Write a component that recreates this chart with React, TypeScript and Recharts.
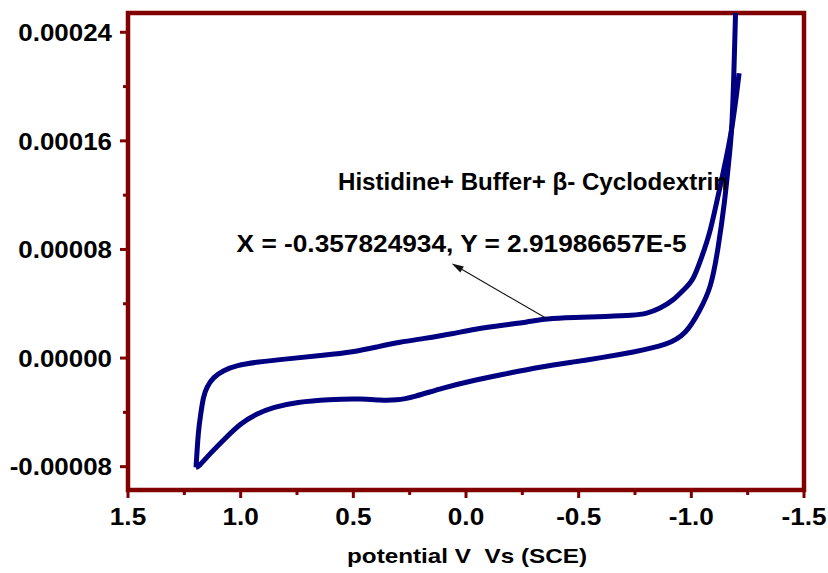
import React from 'react';
import { LineChart, Line, XAxis, YAxis, ReferenceArea, ReferenceDot, ReferenceLine } from 'recharts';

const FRAME = '#800000';
const CURVE = '#000080';
const FONT = '"Liberation Sans", Arial, Helvetica, sans-serif';

// forward sweep (upper branch): potential (V vs SCE) and current (A)
const forwardE = [1.198, 1.188, 1.177, 1.166, 1.151, 1.121, 1.077, 1.018, 0.929, 0.781, 0.633, 0.5, 0.396, 0.293, 0.19, 0.056, -0.032, -0.181, -0.27, -0.358, -0.476, -0.624, -0.742, -0.802, -0.861, -0.92, -0.964, -1.009, -1.047, -1.083, -1.127, -1.18, -1.212];
const forwardI = [-8.05e-5, -5.33e-5, -4.1e-5, -2.87e-5, -2.14e-5, -1.4e-5, -0.91e-5, -0.54e-5, -0.29e-5, -0.04e-5, 0.2e-5, 0.44e-5, 0.81e-5, 1.18e-5, 1.43e-5, 1.8e-5, 2.12e-5, 2.46e-5, 2.65e-5, 2.9e-5, 2.98e-5, 3.07e-5, 3.15e-5, 3.27e-5, 3.64e-5, 4.25e-5, 5.0e-5, 5.7e-5, 7.5e-5, 9.17e-5, 12.6e-5, 16.56e-5, 20.98e-5];

// reverse sweep (lower branch)
const reverseE = [-1.198, -1.189, -1.18, -1.163, -1.149, -1.118, -1.087, -1.038, -0.979, -0.891, -0.742, -0.595, -0.476, -0.328, -0.181, -0.032, 0.102, 0.233, 0.308, 0.382, 0.456, 0.612, 0.75, 0.855, 0.929, 1.003, 1.077, 1.136, 1.188, 1.198];
const reverseI = [26.5e-5, 20.98e-5, 16.56e-5, 14.05e-5, 11.62e-5, 7.94e-5, 5.14e-5, 3.52e-5, 1.8e-5, 0.94e-5, 0.44e-5, 0.01e-5, -0.29e-5, -0.66e-5, -1.15e-5, -1.64e-5, -2.2e-5, -2.87e-5, -3.12e-5, -3.12e-5, -2.99e-5, -3.04e-5, -3.24e-5, -3.61e-5, -4.1e-5, -4.83e-5, -6.06e-5, -7.04e-5, -8.03e-5, -8.05e-5];

const xTicks = [1.5, 1.25, 1.0, 0.75, 0.5, 0.25, 0, -0.25, -0.5, -0.75, -1.0, -1.25, -1.5];
const yTicks = [-0.00008, -0.00004, 0, 0.00004, 0.00008, 0.00012, 0.00016, 0.0002, 0.00024];
const xDomain = [-1.5, 1.5];
const yDomain = [-9.72e-5, 2.542e-4];

const sampleLabel = 'Histidine+ Buffer+ \u03b2- Cyclodextrin';
const sampleLabelAt = { x: 0.568, y: 12.41e-5 };
const pointLabel = 'X = -0.357824934, Y = 2.91986657E-5';
const pointLabelAt = { x: 1.018, y: 7.79e-5 };
const markedPoint = { x: -0.357824934, y: 2.91986657e-5 };
const arrowTip = { x: 0.0635, y: 6.96e-5 };
const xTitle = 'potential V\u00a0 Vs (SCE)';

const forward = forwardE.map((e, k) => ({ e, i: forwardI[k] }));
const reverse = reverseE.map((e, k) => ({ e, i: reverseI[k] }));

const XTick = (props: any) => {
  const { x, y, payload } = props;
  const v = payload.value;
  const major = Math.abs(v * 2 - Math.round(v * 2)) < 1e-6;
  return (
    <g>
      <line x1={x} x2={x} y1={y} y2={y + (major ? 8 : 5)} stroke={FRAME} strokeWidth={3} />
      {major && (
        <text transform={`translate(${x},${y + 35}) scale(1.09,1)`} textAnchor="middle" fontSize={24} fontWeight="bold" fontFamily={FONT} fill="#000">
          {v.toFixed(1)}
        </text>
      )}
    </g>
  );
};

const YTick = (props: any) => {
  const { x, y, payload } = props;
  const v = payload.value;
  const major = Math.round(v / 0.00004) % 2 === 0;
  return (
    <g>
      <line x1={x} x2={x - (major ? 8 : 5)} y1={y} y2={y} stroke={FRAME} strokeWidth={3} />
      {major && (
        <text transform={`translate(${x - 16},${y + 8.7}) scale(1.08,1)`} textAnchor="end" fontSize={24} fontWeight="bold" fontFamily={FONT} fill="#000">
          {v.toFixed(5)}
        </text>
      )}
    </g>
  );
};

const Note = (text: string, len: number) => (p: any) => (
  <text x={p.cx} y={p.cy} fontSize={23} fontWeight="bold" fontFamily={FONT} fill="#000" textLength={len} lengthAdjust="spacingAndGlyphs">
    {text}
  </text>
);

const Arrow = (p: any) => {
  const { x1, y1, x2, y2 } = p;
  const ang = Math.atan2(y2 - y1, x2 - x1);
  const L = 12;
  const W = 3.5;
  const bx = x2 - L * Math.cos(ang);
  const by = y2 - L * Math.sin(ang);
  const nx = -Math.sin(ang) * W;
  const ny = Math.cos(ang) * W;
  return (
    <g>
      <line x1={x1} y1={y1} x2={bx} y2={by} stroke="#111" strokeWidth={1.1} />
      <polygon points={`${x2},${y2} ${bx + nx},${by + ny} ${bx - nx},${by - ny}`} fill="#111" />
    </g>
  );
};

const AxisTitle = (p: any) => {
  const vb = p.viewBox;
  return (
    <text x={vb.x + vb.width / 2 + 1} y={vb.y + 73} textAnchor="middle" fontSize={21} fontWeight="bold" fontFamily={FONT} fill="#000" textLength={240} lengthAdjust="spacingAndGlyphs">
      {xTitle}
    </text>
  );
};

export default function App() {
  return (
    <div style={{ position: 'absolute', left: 0, top: 0, width: 828, height: 573, background: '#fff' }}>
      <LineChart width={828} height={573} margin={{ top: 13, right: 24, bottom: 0, left: 0 }}>
        <XAxis
          dataKey="e"
          type="number"
          domain={xDomain}
          reversed
          ticks={xTicks}
          interval={0}
          tick={<XTick />}
          tickSize={0}
          tickMargin={0}
          tickLine={false}
          axisLine={false}
          height={83}
          allowDataOverflow
          label={AxisTitle}
        />
        <YAxis
          type="number"
          domain={yDomain}
          ticks={yTicks}
          interval={0}
          tick={<YTick />}
          tickSize={0}
          tickMargin={0}
          tickLine={false}
          axisLine={false}
          width={128}
          allowDataOverflow
        />
        <Line data={forward} dataKey="i" type="basis" stroke={CURVE} strokeWidth={5} strokeLinejoin="round" dot={false} activeDot={false} isAnimationActive={false} />
        <Line data={reverse} dataKey="i" type="basis" stroke={CURVE} strokeWidth={5} strokeLinejoin="round" dot={false} activeDot={false} isAnimationActive={false} />
        <ReferenceArea x1={xDomain[1]} x2={xDomain[0]} y1={yDomain[0]} y2={yDomain[1]} fill="none" fillOpacity={0} stroke={FRAME} strokeWidth={4.5} />
        <ReferenceLine segment={[markedPoint, arrowTip]} shape={Arrow} />
        <ReferenceDot x={sampleLabelAt.x} y={sampleLabelAt.y} r={0} shape={Note(sampleLabel, 390)} />
        <ReferenceDot x={pointLabelAt.x} y={pointLabelAt.y} r={0} shape={Note(pointLabel, 450)} />
      </LineChart>
    </div>
  );
}
